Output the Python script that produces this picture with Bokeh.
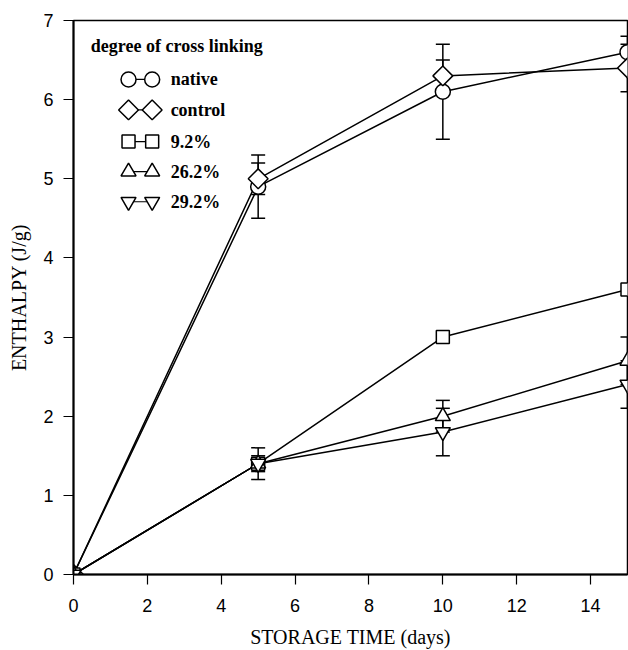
import numpy as np
from bokeh.plotting import figure
from bokeh.models import ColumnDataSource, Whisker, TeeHead, Range1d, FixedTicker
from bokeh.core.properties import value
from bokeh.embed import file_html
from bokeh.resources import INLINE

# ---- data ----
days = [0, 5, 10, 15]
series_names = ["native", "control", "9.2%", "26.2%", "29.2%"]
native = [0.0, 4.9, 6.1, 6.6]
native_err = [0.0, 0.4, 0.6, 0.2]
control = [0.0, 5.0, 6.3, 6.4]
control_err = [0.0, 0.2, 0.2, 0.3]
cl_9_2 = [0.0, 1.4, 3.0, 3.6]
cl_9_2_err = [0.0, 0.0, 0.0, 0.0]
cl_26_2 = [0.0, 1.4, 2.0, 2.7]
cl_26_2_err = [0.0, 0.2, 0.2, 0.3]
cl_29_2 = [0.0, 1.4, 1.8, 2.4]
cl_29_2_err = [0.0, 0.1, 0.3, 0.3]
x_ticks = [0, 2, 4, 6, 8, 10, 12, 14]
y_ticks = [0, 1, 2, 3, 4, 5, 6, 7]

values = [native, control, cl_9_2, cl_26_2, cl_29_2]
errors = [native_err, control_err, cl_9_2_err, cl_26_2_err, cl_29_2_err]
# diamond drawn as a square rotated by 45 degrees (equal width and height)
markers = ["circle", "square", "square", "triangle", "inverted_triangle"]
angles = [0, np.pi / 4, 0, 0, 0]
msizes = [15, 14, 13, 15, 15]

SERIF = "Liberation Serif"
SANS = "Liberation Sans"

p = figure(width=628, height=650, x_range=Range1d(0, 15), y_range=Range1d(0, 7),
           output_backend="svg", toolbar_location=None,
           min_border_left=73, min_border_right=1, min_border_top=20, min_border_bottom=76)
p.background_fill_color = "white"
p.border_fill_color = "white"
p.outline_line_color = "black"
p.outline_line_width = 1.5
p.xgrid.visible = False
p.ygrid.visible = False

for ax, ticks in ((p.xaxis[0], x_ticks), (p.yaxis[0], y_ticks)):
    ax.ticker = FixedTicker(ticks=ticks)
    ax.minor_tick_line_color = None
    ax.major_tick_out = 10
    ax.major_tick_in = 0
    ax.major_tick_line_color = "black"
    ax.major_tick_line_width = 1.2
    ax.axis_line_color = "black"
    ax.axis_line_width = 2
    ax.major_label_text_font = SANS
    ax.major_label_text_font_size = "18px"
    ax.major_label_text_color = "black"
    ax.axis_label_text_font = SERIF
    ax.axis_label_text_font_style = "normal"
    ax.axis_label_text_font_size = "20px"
    ax.axis_label_text_color = "black"

p.xaxis.axis_label = "STORAGE TIME (days)"
p.yaxis.axis_label = "ENTHALPY (J/g)"
p.xaxis.major_label_standoff = 14
p.yaxis.major_label_standoff = 10
p.xaxis.axis_label_standoff = 11
p.yaxis.axis_label_standoff = 10

# lines
for vals in values:
    p.line(days, vals, line_color="black", line_width=1.5)

# error bars
for vals, err in zip(values, errors):
    keep = [i for i, e in enumerate(err) if e > 0]
    if not keep:
        continue
    src = ColumnDataSource(dict(x=[days[i] for i in keep],
                                lo=[vals[i] - err[i] for i in keep],
                                hi=[vals[i] + err[i] for i in keep]))
    w = Whisker(source=src, base="x", lower="lo", upper="hi", line_color="black", line_width=1.5,
                upper_head=TeeHead(size=14, line_color="black", line_width=1.5),
                lower_head=TeeHead(size=14, line_color="black", line_width=1.5))
    p.add_layout(w)

# markers
for vals, mk, ang, ms in zip(values, markers, angles, msizes):
    p.scatter(days, vals, marker=mk, angle=ang, size=ms, fill_color="white",
              line_color="black", line_width=1.5)

# legend (marker - line - marker, then label)
leg_title_x, leg_title_y = 0.47, 6.68
leg_x1, leg_x2, leg_text_x = 1.49, 2.13, 2.63
leg_y = [6.255, 5.87, 5.47, 5.09, 4.71]
p.text(x=[leg_title_x], y=[leg_title_y], text=["degree of cross linking"],
       text_font=value(SERIF), text_font_style="bold", text_font_size="18px",
       text_baseline="middle", text_align="left", text_color="black")
for name, mk, ang, ms, ly in zip(series_names, markers, angles, msizes, leg_y):
    p.line([leg_x1, leg_x2], [ly, ly], line_color="black", line_width=1.2)
    p.scatter([leg_x1, leg_x2], [ly, ly], marker=mk, angle=ang, size=ms, fill_color="white",
              line_color="black", line_width=1.5)
    p.text(x=[leg_text_x], y=[ly], text=[name], text_font=value(SERIF), text_font_style="bold",
           text_font_size="18px", text_baseline="middle", text_align="left", text_color="black")

open("out.html", "w").write(file_html(p, INLINE))
